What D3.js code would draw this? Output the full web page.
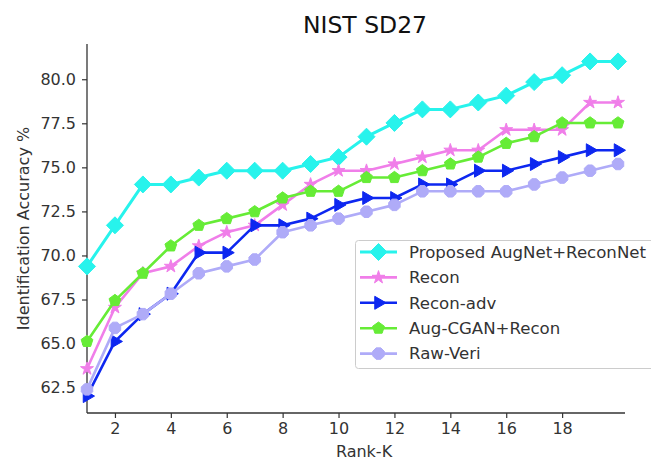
<!DOCTYPE html>
<html><head><meta charset="utf-8">
<script src="https://cdn.jsdelivr.net/npm/d3@7"></script>
<style>body{margin:0;background:#fff;}svg{display:block;font-family:"DejaVu Sans",sans-serif;}</style>
</head><body><svg id="c" width="651" height="462"></svg>
<script>
const ranks = [1,2,3,4,5,6,7,8,9,10,11,12,13,14,15,16,17,18,19,20];
const xTicks = [2,4,6,8,10,12,14,16,18];
const yTicks = [62.5,65.0,67.5,70.0,72.5,75.0,77.5,80.0];
const proposed = [69.38,71.71,74.03,74.03,74.42,74.81,74.81,74.81,75.19,75.58,76.74,77.52,78.29,78.29,78.68,79.07,79.84,80.23,81.01,81.01];
const recon    = [63.57,67.05,68.99,69.38,70.54,71.32,71.71,72.87,74.03,74.81,74.81,75.19,75.58,75.97,75.97,77.13,77.13,77.13,78.68,78.68];
const reconAdv = [62.02,65.12,66.67,67.83,70.16,70.16,71.71,71.71,72.09,72.87,73.26,73.26,74.03,74.03,74.81,74.81,75.19,75.58,75.97,75.97];
const augCgan  = [65.12,67.44,68.99,70.54,71.71,72.09,72.48,73.26,73.64,73.64,74.42,74.42,74.81,75.19,75.58,76.36,76.74,77.52,77.52,77.52];
const rawVeri  = [62.40,65.89,66.67,67.83,68.99,69.38,69.77,71.32,71.71,72.09,72.48,72.87,73.64,73.64,73.64,73.64,74.03,74.42,74.81,75.19];
const seriesNames = ["Proposed AugNet+ReconNet","Recon","Recon-adv","Aug-CGAN+Recon","Raw-Veri"];

function poly(n, r, rot){
  const pts=[];
  for(let i=0;i<n;i++){const a=rot+i*2*Math.PI/n;pts.push([r*Math.cos(a),r*Math.sin(a)]);}
  return "M"+pts.map(p=>p[0].toFixed(2)+","+p[1].toFixed(2)).join("L")+"Z";
}
const starPath = d3.symbol(d3.symbolStar, 52)();
const markers = {
  diamond: poly(4, 8.5, 0),
  star: starPath,
  tri: poly(3, 7.5, 0),
  pent: poly(5, 6.2, -Math.PI/2),
  oct: poly(8, 6.2, Math.PI/8)
};
const series = [
  {name:seriesNames[0], values:proposed, color:"#27f3ec", marker:"diamond", lw:3},
  {name:seriesNames[1], values:recon,    color:"#f07ee9", marker:"star", lw:2.6},
  {name:seriesNames[2], values:reconAdv, color:"#0d27f0", marker:"tri", lw:2.6},
  {name:seriesNames[3], values:augCgan,  color:"#66ec36", marker:"pent", lw:2.6},
  {name:seriesNames[4], values:rawVeri,  color:"#afabf8", marker:"oct", lw:2.6}
];

const svg = d3.select("#c");
const L=87, R=625, T=44, B=413;
const x = d3.scaleLinear().domain([1,20.25]).range([L,R]);
const y = d3.scaleLinear().domain([61.06,82.0]).range([B,T]);

// axes
const xAxis = d3.axisBottom(x).tickValues(xTicks).tickSize(5).tickPadding(5).tickFormat(d3.format("d"));
const gx = svg.append("g").attr("transform",`translate(0,${B})`).call(xAxis);
const yAxis = d3.axisLeft(y).tickValues(yTicks).tickSize(5).tickPadding(6).tickFormat(d3.format(".1f"));
const gy = svg.append("g").attr("transform",`translate(${L},0)`).call(yAxis);
[gx,gy].forEach(g=>{
  g.select(".domain").attr("stroke","#333").attr("stroke-width",1.3).attr("d", g===gx?`M${L},0H${R}`:`M0,${T}V${B}`);
  g.selectAll(".tick line").attr("stroke","#333").attr("stroke-width",1.2);
  g.selectAll(".tick text").attr("fill","#333").style("font-size","16px").style("font-family","DejaVu Sans");
});

// lines
const line = d3.line().x((d,i)=>x(ranks[i])).y(d=>y(d));
series.forEach(s=>{
  const g = svg.append("g");
  g.append("path").attr("d",line(s.values)).attr("fill","none").attr("stroke",s.color).attr("stroke-width",s.lw).attr("stroke-linejoin","round");
  g.selectAll("path.m").data(s.values).enter().append("path").attr("class","m")
    .attr("d",markers[s.marker]).attr("transform",(d,i)=>`translate(${x(ranks[i])},${y(d)})`)
    .attr("fill",s.color).attr("stroke",s.color).attr("stroke-width",1);
});

// title & labels
svg.append("text").attr("x",365).attr("y",33).attr("text-anchor","middle").style("font-size","23.5px").attr("fill","#111").text("NIST SD27");
svg.append("text").attr("x",(L+R)/2+8).attr("y",457).attr("text-anchor","middle").style("font-size","16px").attr("fill","#333").text("Rank-K");
svg.append("text").attr("transform",`translate(29,${(T+B)/2}) rotate(-90)`).attr("text-anchor","middle").style("font-size","16px").attr("fill","#333").text("Identification Accuracy %");

// legend
const lg = svg.append("g");
lg.append("rect").attr("x",355.5).attr("y",240.5).attr("width",310).attr("height",128).attr("rx",3)
  .attr("fill","#fff").attr("fill-opacity",0.85).attr("stroke","#ccc").attr("stroke-width",1);
series.forEach((s,i)=>{
  const cy = 252 + i*25.4;
  lg.append("line").attr("x1",360).attr("x2",397).attr("y1",cy).attr("y2",cy).attr("stroke",s.color).attr("stroke-width",s.lw);
  lg.append("path").attr("d",markers[s.marker]).attr("transform",`translate(378.5,${cy})`).attr("fill",s.color).attr("stroke",s.color);
  lg.append("text").attr("x",409).attr("y",cy).attr("dy","0.35em").style("font-size","16.6px").attr("fill","#333").text(s.name);
});
</script></body></html>
